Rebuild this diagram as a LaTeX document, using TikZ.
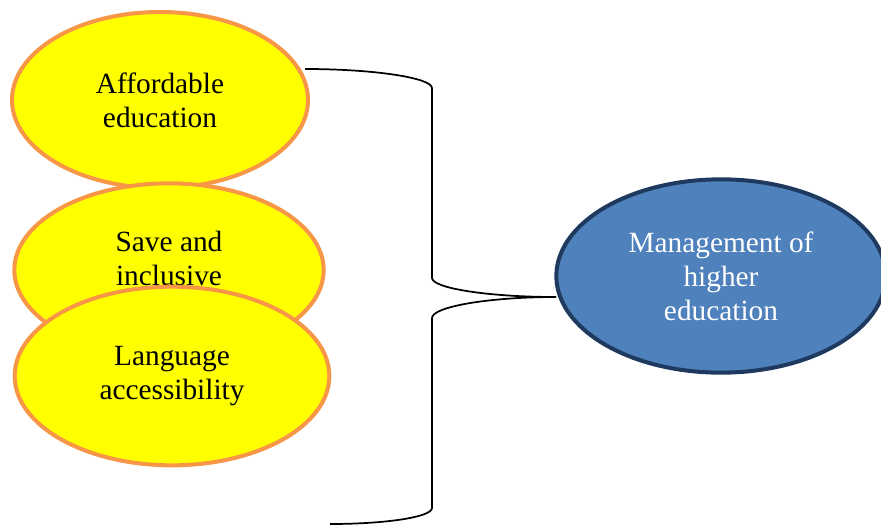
\documentclass[tikz,border=0pt]{standalone}
\usepackage{fontspec}
\setmainfont{Liberation Serif}
\usetikzlibrary{shapes.geometric}

\definecolor{ovalyellow}{HTML}{FFFF00}
\definecolor{ovalorange}{HTML}{F79646}
\definecolor{ovalblue}{HTML}{4F81BD}
\definecolor{ovaldark}{HTML}{1F3A5F}

\tikzset{
  oval/.style={ellipse, draw=ovalorange, fill=ovalyellow, line width=3pt,
    inner sep=0pt, align=center, font=\fontsize{22}{25.5}\selectfont},
  goal/.style={oval, draw=ovaldark, fill=ovalblue, text=white},
  ovaltext/.style={align=center, inner sep=0pt, font=\fontsize{22}{25.5}\selectfont},
  brace/.style={line width=1.3pt}
}

\begin{document}
\begin{tikzpicture}[x=0.75pt, y=-0.75pt]
  \useasboundingbox (0,0) rectangle (881,525);

  % Ovais da esquerda (de cima para baixo, cada um sobre o anterior)
  \node[oval, minimum width=222pt, minimum height=132pt] (afford) at (160,100)
    {Affordable\\education};
  \node[oval, minimum width=232pt, minimum height=130pt] (save) at (169,270) {};
  \node[ovaltext] (saveText) at (169,258) {Save and\\inclusive};
  \node[oval, minimum width=236pt, minimum height=134pt] (lang) at (172,376)
    {Language\\accessibility};

  % Oval da direita
  \node[goal, minimum width=247pt, minimum height=145pt] (mgmt) at (721,276)
    {Management of\\higher\\education};

  % Chave
  \coordinate (braceTop) at (305,69);
  \coordinate (braceTip) at (556,297);
  \coordinate (braceBot) at (330,524);

  \draw[brace] (braceTop) .. controls (375,69) and (432,78) .. (432,88)
    -- (432,278) .. controls (432,288) and (487,297) .. (braceTip);
  \draw[brace] (braceTip) .. controls (487,297) and (432,307) .. (432,318)
    -- (432,508) .. controls (432,517) and (386,524) .. (braceBot);

\end{tikzpicture}
\end{document}
